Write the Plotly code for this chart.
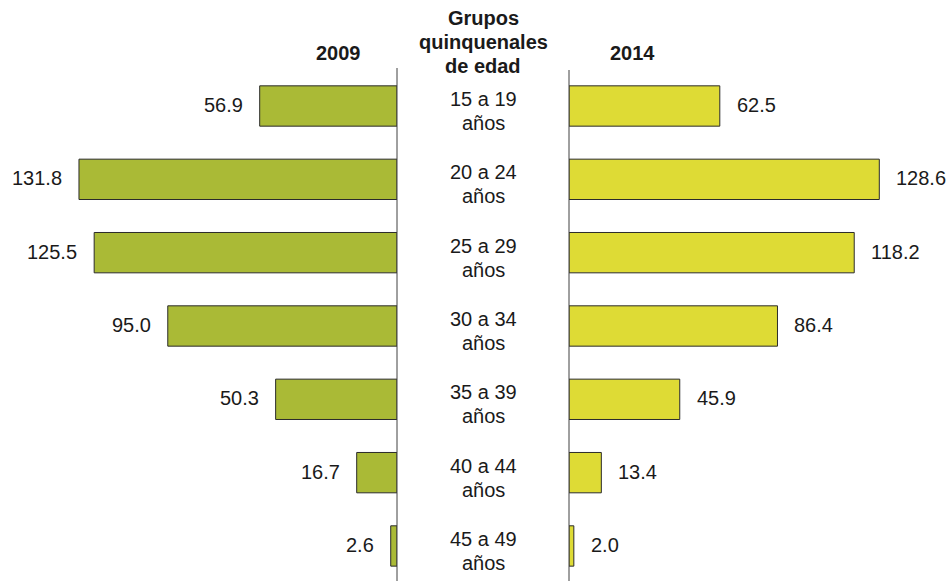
import plotly.graph_objects as go

grupos = ["15 a 19", "20 a 24", "25 a 29", "30 a 34", "35 a 39", "40 a 44", "45 a 49"]
tasas_2009 = [56.9, 131.8, 125.5, 95.0, 50.3, 16.7, 2.6]
tasas_2014 = [62.5, 128.6, 118.2, 86.4, 45.9, 13.4, 2.0]

W, H = 948, 581
filas = list(range(len(grupos)))
familia = "Liberation Sans, Arial, sans-serif"
font = dict(family=familia, size=20, color="#1a1a1a")

fig = go.Figure()
fig.add_trace(go.Bar(x=tasas_2009, y=filas, orientation="h", xaxis="x", yaxis="y",
                     marker=dict(color="#AABA36", line=dict(color="#2b2b2b", width=1)),
                     width=0.55, hoverinfo="x"))
fig.add_trace(go.Bar(x=tasas_2014, y=filas, orientation="h", xaxis="x2", yaxis="y",
                     marker=dict(color="#DEDB35", line=dict(color="#2b2b2b", width=1)),
                     width=0.55, hoverinfo="x"))

anns = []
for i, (a, b, g) in enumerate(zip(tasas_2009, tasas_2014, grupos)):
    anns.append(dict(x=a, y=i, xref="x", yref="y", text=f"{a:.1f}", showarrow=False,
                     xanchor="right", yanchor="middle", xshift=-15, yshift=1, font=font))
    anns.append(dict(x=b, y=i, xref="x2", yref="y", text=f"{b:.1f}", showarrow=False,
                     xanchor="left", yanchor="middle", xshift=15, yshift=1, font=font))
    anns.append(dict(x=483 / W, y=i, xref="paper", yref="y", text=g, showarrow=False,
                     xanchor="center", yanchor="middle", yshift=7, font=font))
    anns.append(dict(x=483 / W, y=i, xref="paper", yref="y", text="años", showarrow=False,
                     xanchor="center", yanchor="middle", yshift=-17, font=font))

bold = dict(family=familia, size=20, color="#1a1a1a")
anns.append(dict(x=338 / W, y=1 - 53 / H, xref="paper", yref="paper", text="<b>2009</b>",
                 showarrow=False, yanchor="middle", font=bold))
anns.append(dict(x=632 / W, y=1 - 53 / H, xref="paper", yref="paper", text="<b>2014</b>",
                 showarrow=False, yanchor="middle", font=bold))
for txt, yy in [("Grupos", 18), ("quinquenales", 42), ("de edad", 66)]:
    anns.append(dict(x=483 / W, y=1 - yy / H, xref="paper", yref="paper",
                     text=f"<b>{txt}</b>", showarrow=False, yanchor="middle", font=bold))

escala = 2.413
fig.update_layout(
    width=W, height=H, margin=dict(l=0, r=0, t=0, b=0),
    paper_bgcolor="white", plot_bgcolor="white", showlegend=False,
    xaxis=dict(domain=[0, 397 / W], range=[397 / escala, 0], visible=False, fixedrange=True),
    xaxis2=dict(domain=[569 / W, 1], range=[0, (W - 569) / escala], visible=False,
                fixedrange=True),
    yaxis=dict(range=[(H - 106) / 73.33, -106 / 73.33], visible=False, fixedrange=True),
    annotations=anns,
    shapes=[
        dict(type="line", xref="paper", yref="paper", x0=397 / W, x1=397 / W,
             y0=0, y1=1 - 68 / H, line=dict(color="#404040", width=1)),
        dict(type="line", xref="paper", yref="paper", x0=569 / W, x1=569 / W,
             y0=0, y1=1 - 70 / H, line=dict(color="#404040", width=1)),
    ],
)

fig.write_html("out.html", config={"displayModeBar": False},
               post_script="document.body.style.margin='0';")
